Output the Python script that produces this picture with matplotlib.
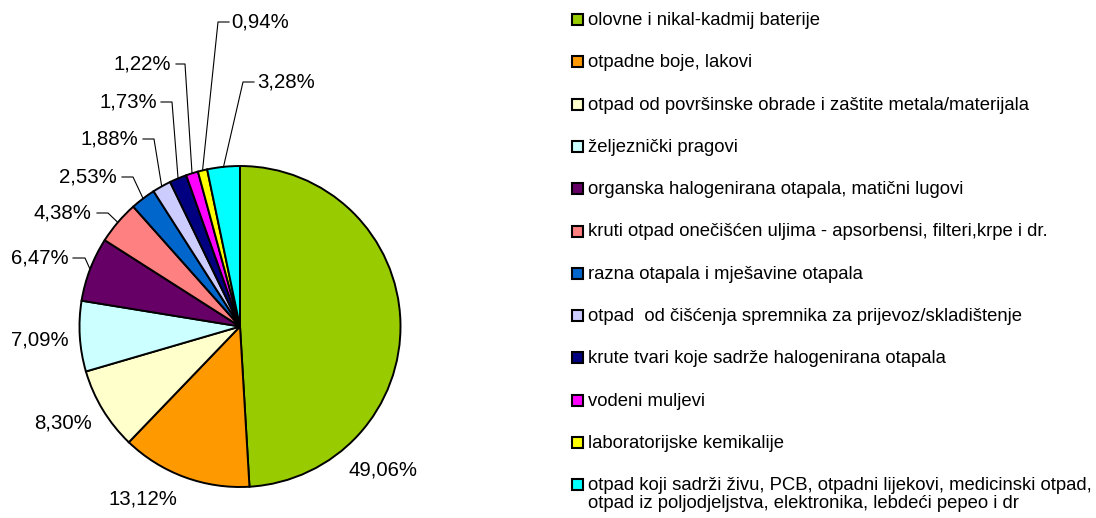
import numpy as np
import matplotlib.pyplot as plt
from matplotlib.patches import Rectangle

plt.rcParams['font.family'] = ['Liberation Sans', 'DejaVu Sans']

# podaci
kategorije = [
    'olovne i nikal-kadmij baterije',
    'otpadne boje, lakovi',
    'otpad od površinske obrade i zaštite metala/materijala',
    'željeznički pragovi',
    'organska halogenirana otapala, matični lugovi',
    'kruti otpad onečišćen uljima - apsorbensi, filteri,krpe i dr.',
    'razna otapala i mješavine otapala',
    'otpad  od čišćenja spremnika za prijevoz/skladištenje',
    'krute tvari koje sadrže halogenirana otapala',
    'vodeni muljevi',
    'laboratorijske kemikalije',
    'otpad koji sadrži živu, PCB, otpadni lijekovi, medicinski otpad,\notpad iz poljodjeljstva, elektronika, lebdeći pepeo i dr',
]
udjeli = [49.06, 13.12, 8.30, 7.09, 6.47, 4.38, 2.53, 1.88, 1.73, 1.22, 0.94, 3.28]
boje = ['#99CC00', '#FF9900', '#FFFFCC', '#CCFFFF', '#660066', '#FF8080',
        '#0066CC', '#CCCCFF', '#000080', '#FF00FF', '#FFFF00', '#00FFFF']

# polozaj natpisa (pikseli)
natpisi_xy = [(383, 470), (143, 499), (63, 423), (40, 340), (40, 258), (62, 213),
              (88, 177), (109, 139), (128, 102), (142, 64), (260, 22), (286, 82)]
# kratka vodoravna crta (x1, x2) za male isjecke
crte = [None, None, None, None, (73, 85), (97, 108), (122, 133), (143, 154),
        (161, 172), (176, 185), (229, 218), (254, 243)]

W, H = 1096, 518
cx, cy, R = 240, 326.5, 160.5

fig = plt.figure(figsize=(W / 100, H / 100), dpi=100)
ax = fig.add_axes([0, 0, 1, 1])

wedges, _ = ax.pie(udjeli, colors=boje, startangle=90, counterclock=False,
                   center=(cx, H - cy), radius=R, frame=True,
                   wedgeprops=dict(edgecolor='black', linewidth=1.4))
ax.set_xlim(0, W)
ax.set_ylim(0, H)
ax.axis('off')

kum = np.cumsum([0] + udjeli[:-1])
for i, v in enumerate(udjeli):
    tekst = f'{v:.2f}'.replace('.', ',') + '%'
    tx, ty = natpisi_xy[i]
    ax.text(tx, H - ty, tekst, fontsize=14.7, ha='center', va='center')
    if crte[i] is not None:
        kut = np.deg2rad((kum[i] + v / 2) / 100 * 360)
        px = cx + R * np.sin(kut)
        py = cy - R * np.cos(kut)
        x1, x2 = crte[i]
        ax.plot([x1, x2, px], [H - ty, H - ty, H - py], color='black', lw=0.8)

# legenda
y0, korak = 19.5, 42.3
for i, (naziv, boja) in enumerate(zip(kategorije, boje)):
    y = y0 + i * korak
    ax.add_patch(Rectangle((571.5, H - y - 5.5), 11, 11, facecolor=boja,
                           edgecolor='black', linewidth=1.5))
    for j, red in enumerate(naziv.split('\n')):
        ax.text(588, H - y - 1 - j * 18, red, fontsize=13.3, ha='left', va='center')

fig.savefig('out.png', dpi=100)
